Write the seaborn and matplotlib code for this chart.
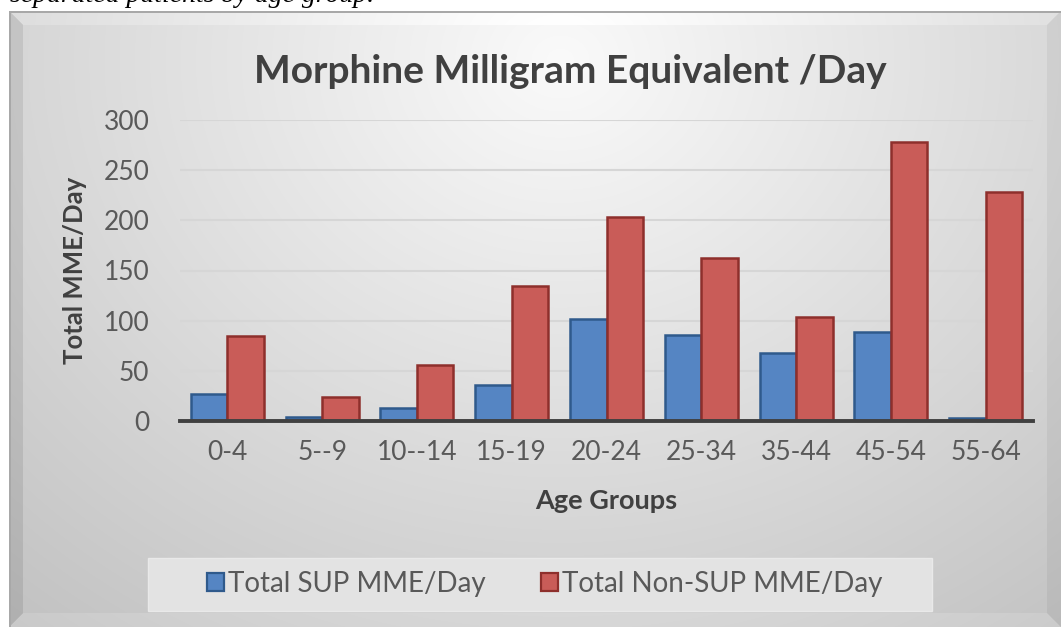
import numpy as np
import pandas as pd
import matplotlib
matplotlib.use("Agg")
import matplotlib.pyplot as plt
from matplotlib.patches import Rectangle
import seaborn as sns

# values
age_groups = ["0-4", "5--9", "10--14", "15-19", "20-24", "25-34", "35-44", "45-54", "55-64"]
sup_mme = [27, 4, 13, 36, 102, 86, 68, 89, 2.5]
non_sup_mme = [85, 24, 56, 135, 203, 162, 104, 278, 228]
series_names = ["Total SUP MME/Day", "Total Non-SUP MME/Day"]

df = pd.DataFrame({
    "age": age_groups * 2,
    "mme": sup_mme + non_sup_mme,
    "series": [series_names[0]] * len(age_groups) + [series_names[1]] * len(age_groups),
})

sns.set_theme(style="white")
plt.rcParams["font.family"] = ["Lato", "DejaVu Sans"]

W, H = 1061, 627
fig = plt.figure(figsize=(W / 100, H / 100), dpi=100)
fig.patch.set_facecolor("white")

# gradient panel with a light bevel, like the Excel chart style
yy, xx = np.mgrid[0:H, 0:W]
dist = np.sqrt(((xx - 560) / 700) ** 2 + ((yy - 60) / 600) ** 2)
img = 0.98 - 0.18 * dist
x0, y0, bw = 9, 11, 14
dl = (xx - x0) / bw
dt = (yy - y0) / bw
dr = (W - 1 - xx) / bw
db = (H - 1 - yy) / bw
m = np.minimum.reduce([dl, dt, dr, db])
bev = m < 1
img = np.where(bev & (dl == m), img - 0.07, img)
img = np.where(bev & (dt == m), img + 0.03, img)
img = np.where(bev & (dr == m), img - 0.04, img)
img = np.where(bev & (db == m), img + 0.03, img)
img = np.where((xx < x0) | (yy < y0), 1.0, img)
img = np.where(((xx >= x0) & (xx < x0 + 2) & (yy >= y0)) | ((yy >= y0) & (yy < y0 + 2) & (xx >= x0)), 0.66, img)
img = np.clip(img, 0, 1)
bg = fig.add_axes([0, 0, 1, 1], zorder=-10)
bg.imshow(np.dstack([img] * 3), extent=[0, 1, 0, 1], aspect="auto", interpolation="bilinear")
bg.axis("off")

# caption of the page above the chart, cut at the top edge as in the source
fig.text(10 / W, 1 - 2 / H, "separated patients by age group.", family="Liberation Serif",
         style="italic", fontsize=20, va="baseline", ha="left", color="black")

ax = fig.add_axes([180 / W, 1 - 421 / H, 853 / W, 301 / H])
ax.patch.set_alpha(0)

sns.barplot(data=df, x="age", y="mme", hue="series", palette=["#5585C3", "#C95C58"],
            saturation=1, width=0.77, errorbar=None, linewidth=1.8, ax=ax, legend=False)
for cont, ec in zip(ax.containers, ["#2F5A8C", "#8E2F2C"]):
    for bar in cont:
        bar.set_edgecolor(ec)

ax.set_ylim(0, 300)
ax.set_yticks(range(0, 301, 50))
ax.set_xlim(-0.5, len(age_groups) - 0.5)
ax.yaxis.grid(True, color="#d6d6d6", linewidth=1.5)
ax.set_axisbelow(True)
for s in ["left", "right", "top"]:
    ax.spines[s].set_visible(False)
ax.spines["bottom"].set_color("#404040")
ax.spines["bottom"].set_linewidth(2.8)
ax.tick_params(axis="y", length=0, pad=22, labelsize=19, labelcolor="#595959")
ax.tick_params(axis="x", length=0, pad=14, labelsize=19, labelcolor="#595959")

ax.set_xlabel("Age Groups", fontsize=19.5, fontweight="bold", color="#404040")
ax.xaxis.set_label_coords(0.5, (421 - 501) / 301)
ax.xaxis.label.set_va("center")
ax.set_ylabel("Total MME/Day", fontsize=18.5, fontweight="bold", color="#404040")
ax.yaxis.set_label_coords((75 - 180) / 853, 0.5)
ax.yaxis.label.set_va("center")

fig.text(570 / W, 1 - 83 / H, "Morphine Milligram Equivalent /Day", fontsize=28,
         fontweight="bold", color="#404040", ha="center", va="baseline")

# legend panel
fig.add_artist(Rectangle((148 / W, 1 - 611 / H), 784 / W, 53 / H, transform=fig.transFigure,
                         facecolor="#e3e3e3", edgecolor="#e9e9e9", linewidth=1, zorder=-5))
handles = [Rectangle((0, 0), 1, 1, facecolor=c, edgecolor=e, linewidth=1.6)
           for c, e in zip(["#5585C3", "#C95C58"], ["#2F5A8C", "#8E2F2C"])]
fig.legend(handles, series_names, loc="center", bbox_to_anchor=(545 / W, 1 - 584 / H),
           ncol=2, frameon=False, fontsize=20, handlelength=0.6, handleheight=0.6,
           handletextpad=0.15, columnspacing=2.0, labelcolor="#595959")

fig.savefig("out.png", dpi=100)
